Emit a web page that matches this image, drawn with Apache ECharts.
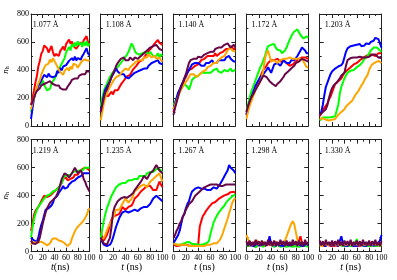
<!DOCTYPE html>
<html><head><meta charset="utf-8">
<script src="https://cdn.jsdelivr.net/npm/echarts@6/dist/echarts.min.js"></script>
<style>html,body{margin:0;padding:0;background:#fff}#c{width:397px;height:280px}</style>
</head><body><div id="c"></div>
<script>
const times = [0,2.5,5,7.5,10,12.5,15,17.5,20,22.5,25,27.5,30,32.5,35,37.5,40,42.5,45,47.5,50,52.5,55,57.5,60,62.5,65,67.5,70,72.5,75,77.5,80,82.5,85,87.5,90,92.5,95,97.5,100];
const panelLabels = ['1.077 Å','1.108 Å','1.140 Å','1.172 Å','1.203 Å','1.219 Å','1.235 Å','1.267 Å','1.298 Å','1.330 Å'];
const xTicks = [0,20,40,60,80,100];
const yTicks = [0,200,400,600,800];
const colors = ['#ff0000','#00ff00','#0000ff','#ffa500','#670748'];

const red_1077 = [150,195,250,310,355,425,465,515,535,575,585,555,525,548,572,528,498,515,522,500,535,548,568,540,585,598,618,588,604,572,575,552,568,582,598,578,612,622,642,598,578];
const green_1077 = [100,150,195,240,255,295,305,295,325,295,285,255,255,265,305,315,335,355,385,395,425,435,465,485,525,545,565,540,585,565,595,570,605,580,595,565,600,575,605,570,590];
const blue_1077 = [50,125,195,245,248,285,298,325,338,365,368,348,375,355,345,348,335,358,395,378,415,398,425,438,435,448,465,468,485,468,495,468,485,488,475,498,515,528,555,518,505];
const orange_1077 = [120,165,195,245,255,305,325,365,375,415,435,435,445,475,455,485,465,455,425,415,385,385,365,395,395,415,395,425,405,445,445,435,415,435,435,465,475,475,485,465,470];
const maroon_1077 = [150,170,200,230,250,260,270,290,280,300,290,310,300,320,310,300,310,290,280,290,270,280,260,270,260,280,290,310,330,320,340,350,340,360,350,370,380,370,390,400,390];

const red_1108 = [150,175,185,215,215,215,225,245,225,255,255,255,260,295,295,325,335,355,365,365,375,405,405,430,435,460,465,470,480,505,510,535,535,560,565,590,590,615,595,595,578];
const green_1108 = [140,200,250,280,300,330,350,370,380,400,410,420,430,450,460,480,490,510,530,560,590,570,540,520,530,510,500,520,510,530,520,510,530,520,500,510,500,520,490,510,500];
const blue_1108 = [100,160,220,260,280,300,320,350,370,390,410,390,380,370,360,370,350,360,340,350,360,370,380,370,390,380,400,390,410,420,410,430,440,450,440,460,450,470,450,460,440];
const orange_1108 = [40,100,160,200,230,260,280,300,320,330,350,340,360,370,390,400,410,420,400,420,430,440,450,460,450,470,480,470,490,500,490,510,500,490,480,500,480,470,490,470,460];
const maroon_1108 = [100,150,200,240,260,290,320,350,360,400,430,450,460,480,470,490,470,480,470,490,480,470,490,480,480,490,500,510,520,530,540,550,560,550,570,560,580,570,550,560,540];

const red_1140 = [100,140,180,220,250,280,300,330,350,380,400,390,410,420,430,420,440,450,470,480,480,490,500,490,500,510,500,520,500,510,520,530,530,540,550,560,550,570,560,550,550];
const green_1140 = [150,170,200,230,250,280,290,300,300,280,260,290,330,340,350,360,360,370,380,370,380,390,380,370,380,390,400,390,410,390,400,380,390,400,410,390,400,410,390,400,400];
const blue_1140 = [120,160,200,240,260,290,310,340,360,380,390,420,440,430,450,440,450,440,430,440,430,450,460,450,460,470,450,460,450,470,460,470,480,470,490,480,500,480,470,460,460];
const orange_1140 = [120,150,180,210,240,260,280,300,300,330,350,370,380,370,360,350,360,370,380,390,380,400,420,410,430,440,450,460,450,470,480,490,480,500,520,540,550,560,540,530,530];
const maroon_1140 = [80,130,170,210,250,280,310,340,370,410,450,470,470,480,490,480,495,500,490,500,510,500,520,510,530,540,530,550,540,560,570,560,565,580,570,590,580,560,570,580,560];

const red_1172 = [80,120,160,190,220,250,270,300,320,350,380,400,400,430,450,460,470,480,470,480,480,470,460,470,470,460,450,440,430,440,440,450,460,470,480,490,490,480,490,480,480];
const green_1172 = [100,150,200,240,270,300,330,360,390,420,440,470,500,540,570,575,580,570,585,560,545,550,540,520,525,540,560,590,615,640,660,675,685,690,670,650,640,625,630,640,630];
const blue_1172 = [80,130,170,200,230,260,290,310,330,350,360,370,380,400,420,400,380,410,440,450,450,440,430,450,470,460,450,440,450,470,460,470,480,500,520,540,560,550,540,520,520];
const orange_1172 = [50,100,140,170,200,230,260,280,300,320,350,400,480,520,540,500,460,470,470,460,450,460,470,480,480,490,480,490,490,480,480,490,480,470,480,490,480,460,440,420,420];
const maroon_1172 = [100,140,170,200,220,240,260,280,300,320,340,360,370,350,340,320,320,300,290,285,300,310,320,330,350,370,380,390,400,410,420,430,450,460,460,470,480,480,470,460,460];

const red_1203 = [70,90,110,130,140,160,190,210,240,270,300,310,320,330,340,360,380,390,400,410,420,430,440,440,450,460,470,480,485,490,500,505,510,520,510,500,500,510,520,520,520];
const green_1203 = [40,50,60,55,60,65,60,70,65,75,70,110,150,230,280,310,340,360,380,390,395,400,400,410,420,430,435,440,460,480,480,500,520,540,550,560,570,560,550,540,530];
const blue_1203 = [80,100,150,220,280,310,340,370,390,400,410,420,425,430,435,450,460,530,555,565,570,560,575,565,580,570,585,570,580,575,590,580,585,600,590,610,630,640,620,590,560];
const orange_1203 = [50,60,55,50,45,55,40,50,45,55,50,60,80,90,100,110,120,140,150,160,165,180,200,220,235,250,270,290,305,330,340,365,400,425,440,448,455,460,465,455,450];
const maroon_1203 = [80,90,100,110,120,150,200,240,270,290,300,310,320,340,360,370,380,430,470,480,485,480,490,480,490,480,495,490,490,495,490,500,495,500,510,500,510,500,490,490,485];

const red_1219 = [150,200,260,290,300,320,330,360,380,400,400,390,390,400,410,420,430,440,450,460,460,490,520,530,530,510,500,520,520,530,550,560,550,570,580,590,580,600,600,590,580];
const green_1219 = [100,170,230,270,300,320,330,350,360,380,390,400,400,410,420,430,430,440,450,460,460,490,520,540,540,545,550,550,560,570,570,575,580,580,590,580,590,600,590,600,600];
const blue_1219 = [100,90,80,70,70,100,150,190,220,260,300,310,310,320,330,350,380,390,400,420,430,450,470,450,440,460,480,490,500,505,510,520,530,535,540,550,560,555,560,560,560];
const orange_1219 = [50,70,70,65,60,65,70,72,70,60,50,45,50,60,80,95,105,95,85,80,80,75,70,60,50,40,36,60,95,120,145,165,175,190,200,210,225,240,260,290,310];
const maroon_1219 = [80,60,50,55,60,70,100,150,200,240,280,310,330,350,360,370,380,390,400,440,480,520,540,560,560,545,530,545,560,580,600,580,560,570,580,560,520,500,470,450,430];

const red_1235 = [150,100,80,100,120,150,200,230,250,260,260,270,270,290,320,310,300,310,320,330,330,350,380,390,400,410,430,440,450,460,470,460,470,460,440,450,440,470,500,480,460];
const green_1235 = [100,160,220,270,310,340,370,400,420,440,460,470,480,480,490,500,490,500,510,500,510,520,520,530,520,540,530,540,550,540,560,560,570,580,570,580,590,600,590,580,570];
const blue_1235 = [100,70,50,45,40,45,50,70,100,140,180,210,240,260,280,290,290,280,280,290,290,300,300,290,290,300,310,310,320,320,320,330,340,360,380,390,400,390,380,370,360];
const orange_1235 = [80,90,100,120,150,180,200,220,240,270,300,300,300,320,340,360,380,370,350,360,380,400,430,440,450,460,470,480,480,470,460,480,500,510,520,530,540,550,560,530,500];
const maroon_1235 = [100,80,60,55,50,60,100,180,280,320,340,360,370,380,390,390,380,385,390,400,410,420,440,450,470,480,500,520,540,530,520,540,560,570,580,600,620,610,580,570,560];

const red_1267 = [50,45,40,50,45,40,50,45,50,40,45,50,40,45,50,45,50,180,220,255,270,290,305,320,330,345,350,355,362,375,386,390,398,402,405,410,418,425,433,428,420];
const green_1267 = [60,55,50,55,50,60,55,60,65,60,70,60,55,50,55,50,50,55,50,60,55,60,65,80,130,170,210,235,255,275,290,305,315,330,350,360,375,385,395,405,410];
const blue_1267 = [60,70,100,120,150,200,250,270,310,340,360,400,430,440,450,455,460,455,450,460,450,445,440,450,440,450,460,455,450,460,480,500,520,540,560,580,620,600,590,580,560];
const orange_1267 = [60,55,50,55,50,45,50,45,50,45,40,45,40,45,40,45,40,45,40,45,40,45,50,50,50,55,60,55,60,70,85,105,135,170,200,235,275,310,350,370,385];
const maroon_1267 = [100,120,150,170,200,220,250,270,300,320,340,350,360,380,400,410,420,430,440,450,460,465,470,475,480,470,480,485,480,475,470,480,470,475,480,490,480,485,480,475,480];

const red_1298 = [60,50,40,55,45,60,50,40,55,45,50,60,40,55,45,50,60,45,55,40,50,60,45,55,40,50,45,60,50,45,55,40,50,60,80,110,60,50,45,55,50];
const green_1298 = [40,30,45,35,50,40,30,45,35,50,40,35,50,45,60,90,50,40,35,45,50,40,35,45,40,50,35,45,40,50,35,45,40,50,35,45,40,30,45,40,35];
const blue_1298 = [50,40,60,45,55,40,50,60,45,55,50,40,60,45,60,110,50,45,55,40,60,50,45,55,40,50,60,45,55,50,40,55,45,60,50,45,55,40,50,60,45];
const orange_1298 = [120,90,70,60,50,70,60,80,50,65,55,70,60,50,65,75,55,60,50,70,60,55,65,60,70,80,110,140,170,200,218,195,140,85,60,60,55,50,65,55,60];
const maroon_1298 = [75,40,80,45,70,40,85,50,75,40,80,45,70,40,85,50,75,40,80,45,70,40,85,50,75,40,80,45,70,40,85,50,75,40,80,45,70,40,85,50,70];

const red_1330 = [50,45,55,40,50,60,45,55,40,50,45,55,40,60,45,50,55,40,50,45,55,60,40,50,45,55,40,50,60,45,55,40,50,45,55,60,40,50,45,55,50];
const green_1330 = [50,40,55,45,50,40,55,45,50,40,55,45,50,60,45,55,40,50,45,55,40,50,45,55,90,50,45,55,40,50,45,55,40,50,45,55,40,50,45,55,45];
const blue_1330 = [60,50,45,55,40,50,60,45,55,50,45,55,40,50,110,60,45,55,40,50,60,45,55,40,50,45,55,60,45,50,40,55,45,50,60,45,55,50,60,80,120];
const orange_1330 = [45,50,40,55,45,50,40,55,45,50,40,55,45,50,40,55,45,50,40,55,45,50,40,55,45,50,40,55,45,50,40,55,45,50,40,55,45,50,40,55,45];
const maroon_1330 = [80,45,75,40,85,50,70,45,80,40,75,50,85,45,70,40,80,50,75,45,85,40,70,50,80,45,75,40,85,50,70,45,80,40,75,50,85,45,70,40,75];

const panelSeries = [
  [red_1077, green_1077, blue_1077, orange_1077, maroon_1077],
  [red_1108, green_1108, blue_1108, orange_1108, maroon_1108],
  [red_1140, green_1140, blue_1140, orange_1140, maroon_1140],
  [red_1172, green_1172, blue_1172, orange_1172, maroon_1172],
  [red_1203, green_1203, blue_1203, orange_1203, maroon_1203],
  [red_1219, green_1219, blue_1219, orange_1219, maroon_1219],
  [red_1235, green_1235, blue_1235, orange_1235, maroon_1235],
  [red_1267, green_1267, blue_1267, orange_1267, maroon_1267],
  [red_1298, green_1298, blue_1298, orange_1298, maroon_1298],
  [red_1330, green_1330, blue_1330, orange_1330, maroon_1330]
];

const FONT = "'Liberation Serif','Times New Roman',serif";
const colLeft = [27.7, 100.7, 173.5, 246.4, 319.7];
const rowTop = [14, 139.7];
const W = 61.8, H = 112;
const axisColor = '#222';

const grids = [], xAxes = [], yAxes = [], series = [], titles = [];
for (let p = 0; p < 10; p++) {
  const row = Math.floor(p / 5), col = p % 5;
  grids.push({left: colLeft[col], top: rowTop[row], width: W, height: H});
  titles.push({text: panelLabels[p], left: colLeft[col] + 5, top: rowTop[row] + 7,
    textStyle: {fontFamily: FONT, fontSize: 8, fontWeight: 'normal', color: '#000'}, padding: 0});
  const line = {show: true, onZero: false, lineStyle: {color: axisColor, width: 1}};
  const tick = {show: true, inside: true, length: 4, lineStyle: {color: axisColor, width: 1}};
  const minor = {show: true, splitNumber: 2, length: 2, lineStyle: {color: axisColor, width: 1}};
  const lbl = (show) => ({show, fontFamily: FONT, fontSize: 8, color: '#000', margin: 2});
  const xb = {gridIndex: p, type: 'value', position: 'bottom', min: xTicks[0], max: xTicks[xTicks.length-1], interval: 20,
    axisLine: line, axisTick: tick, minorTick: minor, splitLine: {show: false}, axisLabel: lbl(row === 1)};
  if (row === 1) {
    xb.name = col === 0 ? '{i|t}{r|(ns)}' : '{i|t}{r| (ns)}';
    xb.nameLocation = 'middle';
    xb.nameGap = 10;
    xb.nameTextStyle = {rich: {i: {fontFamily: FONT, fontStyle: 'italic', fontSize: 10, color: '#000'},
                               r: {fontFamily: FONT, fontSize: 10, color: '#000'}}};
  }
  const xt = {gridIndex: p, type: 'value', position: 'top', min: 0, max: 100, interval: 20,
    axisLine: line, axisTick: tick, minorTick: minor, splitLine: {show: false}, axisLabel: {show: false}};
  const yl = {gridIndex: p, type: 'value', position: 'left', min: yTicks[0], max: yTicks[yTicks.length-1], interval: 200,
    axisLine: line, axisTick: tick, minorTick: minor, splitLine: {show: false}, axisLabel: lbl(col === 0)};
  if (col === 0) {
    yl.name = '{n|n}{h|h}';
    yl.nameLocation = 'middle';
    yl.nameRotate = 90;
    yl.nameGap = 21;
    yl.nameTextStyle = {rich: {n: {fontFamily: FONT, fontStyle: 'italic', fontSize: 9, color: '#000'},
                               h: {fontFamily: FONT, fontSize: 6, color: '#000', verticalAlign: 'bottom', padding: [0,0,0,0]}}};
  }
  const yr = {gridIndex: p, type: 'value', position: 'right', min: 0, max: 800, interval: 200,
    axisLine: line, axisTick: tick, minorTick: minor, splitLine: {show: false}, axisLabel: {show: false}};
  xAxes.push(xb, xt);
  yAxes.push(yl, yr);
  panelSeries[p].forEach((vals, k) => {
    series.push({type: 'line', xAxisIndex: 2*p, yAxisIndex: 2*p, showSymbol: false, silent: true,
      data: times.map((t, i) => [t, vals[i]]),
      lineStyle: {color: colors[k], width: 2}, itemStyle: {color: colors[k]}, z: 2 + k});
  });
}

const chart = echarts.init(document.getElementById('c'), null, {renderer: 'canvas'});
chart.setOption({animation: false, backgroundColor: '#fff', title: titles, grid: grids, xAxis: xAxes, yAxis: yAxes, series});
</script></body></html>
